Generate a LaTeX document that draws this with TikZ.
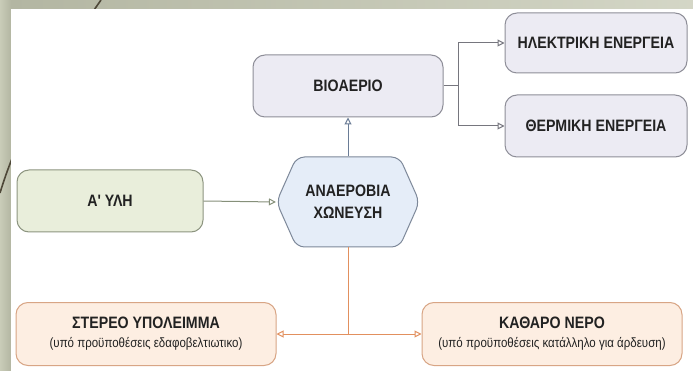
\documentclass[tikz,border=0pt]{standalone}
\usepackage{fontspec}
\setmainfont{Liberation Sans}
\newfontfamily\condfont{Liberation Sans}[FakeStretch=0.86]
\usetikzlibrary{arrows.meta,shapes.symbols}
\definecolor{frameA}{HTML}{B3B6A2}
\definecolor{frameB}{HTML}{C9CCB8}
\definecolor{curveC}{HTML}{4E4838}
\definecolor{lavF}{HTML}{ECEBF3}
\definecolor{lavD}{HTML}{8E8E98}
\definecolor{grnF}{HTML}{E9EEDB}
\definecolor{grnD}{HTML}{8D9580}
\definecolor{bluF}{HTML}{E5EDF8}
\definecolor{bluD}{HTML}{7D8899}
\definecolor{orgF}{HTML}{FDEEE2}
\definecolor{orgD}{HTML}{D8A585}
\definecolor{lineG}{HTML}{76767E}
\definecolor{lineB}{HTML}{6A7C96}
\definecolor{lineY}{HTML}{86907A}
\definecolor{lineO}{HTML}{E2905E}
\definecolor{txt}{HTML}{222222}
\newcommand{\subtxt}{\fontsize{13.4}{14}\selectfont\mdseries}
\tikzset{
  box/.style={rectangle, rounded corners=12pt, line width=1pt, text=txt,
    font=\condfont\fontsize{16.5}{18}\selectfont\bfseries, inner sep=0pt, align=center},
  lavbox/.style={box, draw=lavD, fill=lavF},
  grnbox/.style={box, draw=grnD, fill=grnF},
  orgbox/.style={box, draw=orgD, fill=orgF},
  hexbox/.style={signal, signal to=west and east, signal pointer angle=132,
    rounded corners=8pt, draw=bluD, fill=bluF, line width=1pt, text=txt,
    font=\condfont\fontsize{16.5}{22}\selectfont\bfseries, inner sep=0pt, align=center},
  conn/.style={line width=1pt, -{Triangle[open, length=7pt, width=7pt, fill=white]}}
}
\begin{document}
\begin{tikzpicture}[x=1pt,y=-1pt]
\useasboundingbox (0,0) rectangle (693,371);
% slide frame
\fill[frameA] (0,0) rectangle (693,371);
\fill[left color=frameB, right color=frameA] (0,0) rectangle (11,371);
\fill[left color=frameA, right color=frameB!80!white] (11,0) rectangle (693,9);
\draw[curveC, line width=1.6pt] (101,0) .. controls (80,30) and (25,110) .. (0,193);
\fill[white] (11,9) rectangle (693,371);
% nodes
\node[lavbox, minimum width=190pt, minimum height=62pt] (bio) at (348,86) {BIOAEPIO};
\node[lavbox, minimum width=182pt, minimum height=60pt] (el) at (596,43) {ΗΛΕΚΤΡΙΚΗ ΕΝΕΡΓΕΙΑ};
\node[lavbox, minimum width=182pt, minimum height=62pt] (th) at (596,126) {ΘΕΡΜΙΚΗ ΕΝΕΡΓΕΙΑ};
\node[grnbox, minimum width=186pt, minimum height=62pt] (yli) at (110,201) {Α' ΥΛΗ};
\node[hexbox, minimum width=143pt, minimum height=90pt] (dig) at (348,202) {ΑΝΑΕΡΟΒΙΑ\\ΧΩΝΕΥΣΗ};
\node[orgbox, minimum width=260pt, minimum height=63pt] (ster) at (146,334)
  {ΣΤΕΡΕΟ ΥΠΟΛΕΙΜΜΑ\\[1pt]{\subtxt (υπό προϋποθέσεις εδαφοβελτιωτικο)}};
\node[orgbox, minimum width=260pt, minimum height=63pt] (ner) at (552,334)
  {ΚΑΘΑΡΟ ΝΕΡΟ\\[1pt]{\subtxt (υπό προϋποθέσεις κατάλληλο για άρδευση)}};
% connectors
\draw[conn, lineY] (yli.east) -- (dig.west);
\draw[conn, lineB] (dig.north) -- (bio.south);
\coordinate (j1) at ([xshift=15pt]bio.east);
\draw[line width=1pt, lineG] (bio.east) -- (j1);
\draw[conn, lineG] (j1) |- (el.west);
\draw[conn, lineG] (j1) |- (th.west);
\coordinate (j2) at (dig.south |- ster.east);
\draw[line width=1pt, lineO] (dig.south) -- (j2);
\draw[conn, lineO] (j2) -- (ster.east);
\draw[conn, lineO] (j2) -- (ner.west);
\end{tikzpicture}
\end{document}
